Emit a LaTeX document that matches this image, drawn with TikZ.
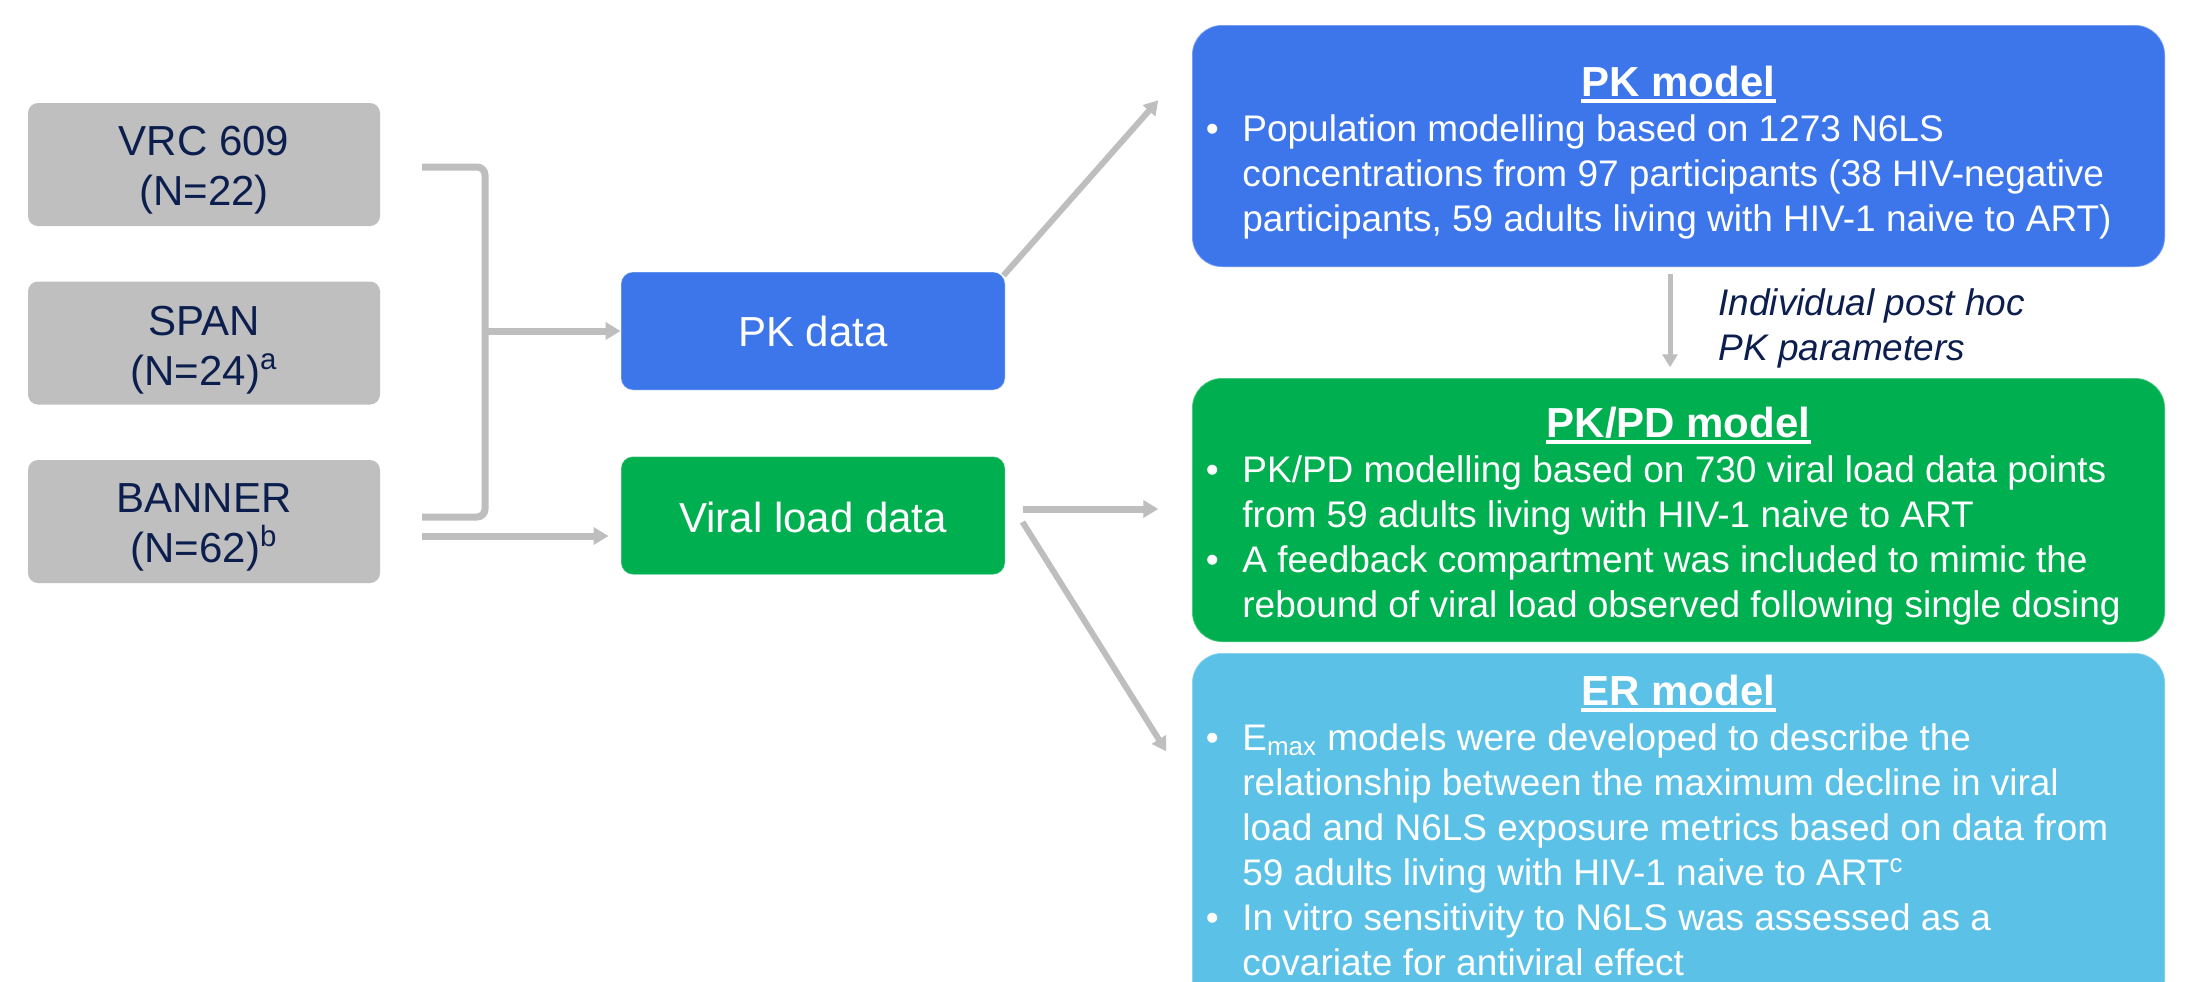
\documentclass[tikz,border=0pt]{standalone}
\usepackage{fontspec}
\setmainfont{Liberation Sans}
\usetikzlibrary{arrows.meta,calc}
\definecolor{pkblue}{RGB}{61,118,235}
\definecolor{pkgreen}{RGB}{0,176,80}
\definecolor{erblue}{RGB}{91,193,230}
\definecolor{boxgray}{RGB}{191,191,191}
\definecolor{arrowgray}{RGB}{190,190,190}
\definecolor{navy}{RGB}{12,30,78}
\begin{document}
\begin{tikzpicture}[x=0.5pt,y=-0.5pt,
  gbox/.style={rectangle, rounded corners=5pt, fill=boxgray, minimum width=176pt, minimum height=61.5pt, inner sep=0},
  dbox/.style={rectangle, rounded corners=6pt, minimum width=192pt, minimum height=59pt, inner sep=0, draw=white, draw opacity=0.3, line width=0.5pt},
  mbox/.style={rectangle, rounded corners=15pt, minimum width=486.5pt, inner sep=0, draw=white, draw opacity=0.3, line width=0.75pt},
  gtext/.style={anchor=base, inner sep=0, text=navy, font=\fontsize{21}{25}\selectfont},
  dtext/.style={anchor=base, inner sep=0, text=white, font=\fontsize{21}{25}\selectfont},
  mtitle/.style={anchor=base, inner sep=0, text=white, font=\fontsize{21}{25}\selectfont\bfseries},
  mline/.style={anchor=base west, inner sep=0, text=white, font=\fontsize{18.5}{22.5}\selectfont},
  lbl/.style={anchor=base west, inner sep=0, text=navy, font=\fontsize{18.5}{22.5}\selectfont\itshape},
  uline/.style={draw=white, line width=2pt},
  bracket/.style={draw=arrowgray, line width=3.5pt, rounded corners=4pt},
  conn/.style={draw=arrowgray, line width=3.5pt, -{Triangle[length=7.5pt,width=8.5pt]}},
  dconn/.style={draw=arrowgray, line width=3pt, -{Triangle[length=7pt,width=8pt]}},
  vconn/.style={draw=arrowgray, line width=2.5pt, -{Triangle[length=6.5pt,width=7.5pt]}}
]
\clip (0,0) rectangle (2187,981);
\fill[white] (0,0) rectangle (2187,981);

% left study boxes
\node[gbox] (vrc) at (204,164.5) {};
\node[gbox] (span) at (204,343) {};
\node[gbox] (banner) at (204,521.5) {};
\node[gtext] (vrc1) at (204,155) {VRC 609};
\node[gtext] (vrc2) at (204,205) {(N=22)};
\node[gtext] (span1) at (204,335) {SPAN};
\node[gtext] (span2) at (204,385) {(N=24)\textsuperscript{a}};
\node[gtext] (ban1) at (204,512) {BANNER};
\node[gtext] (ban2) at (204,562) {(N=62)\textsuperscript{b}};

% data boxes
\node[dbox, fill=pkblue] (pkdata) at (813,331) {};
\node[dtext] (pkdatat) at (813,346) {PK data};
\node[dbox, fill=pkgreen] (viral) at (813,515.5) {};
\node[dtext] (viralt) at (813,532) {Viral load data};

% model boxes
\node[mbox, fill=pkblue, minimum height=121pt] (pkm) at (1678.5,146) {};
\node[mbox, fill=pkgreen, minimum height=132pt] (pkpd) at (1678.5,510) {};
\node[mbox, fill=erblue, minimum height=178.5pt] (er) at (1678.5,831.5) {};

% PK model text
\node[mtitle] (pkmt) at (1678.5,96) {PK model};
\draw[uline] ($(pkmt.base west)+(0,5)$) -- ($(pkmt.base east)+(0,5)$);
\node[mline] (pkmb1) at (1205.5,141) {•};
\node[mline] (pkm1) at (1242,141) {Population modelling based on 1273 N6LS};
\node[mline] (pkm2) at (1242,186) {concentrations from 97 participants (38 HIV-negative};
\node[mline] (pkm3) at (1242,231) {participants, 59 adults living with HIV-1 naive to ART)};

% PK/PD model text
\node[mtitle] (pkpdt) at (1678.5,437) {PK/PD model};
\draw[uline] ($(pkpdt.base west)+(0,5)$) -- ($(pkpdt.base east)+(0,5)$);
\node[mline] (pkpdb1) at (1205.5,482) {•};
\node[mline] (pkpd1) at (1242,482) {PK/PD modelling based on 730 viral load data points};
\node[mline] (pkpd2) at (1242,527) {from 59 adults living with HIV-1 naive to ART};
\node[mline] (pkpdb2) at (1205.5,572) {•};
\node[mline] (pkpd3) at (1242,572) {A feedback compartment was included to mimic the};
\node[mline] (pkpd4) at (1242,617) {rebound of viral load observed following single dosing};

% ER model text
\node[mtitle] (ert) at (1678.5,705) {ER model};
\draw[uline] ($(ert.base west)+(0,5)$) -- ($(ert.base east)+(0,5)$);
\node[mline] (erb1) at (1205.5,750) {•};
\node[mline] (er1) at (1242,750) {E\textsubscript{max} models were developed to describe the};
\node[mline] (er2) at (1242,795) {relationship between the maximum decline in viral};
\node[mline] (er3) at (1242,840) {load and N6LS exposure metrics based on data from};
\node[mline] (er4) at (1242,885) {59 adults living with HIV-1 naive to ART\textsuperscript{c}};
\node[mline] (erb2) at (1205.5,930) {•};
\node[mline] (er5) at (1242,930) {In vitro sensitivity to N6LS was assessed as a};
\node[mline] (er6) at (1242,975) {covariate for antiviral effect};

% label
\node[lbl] (lab1) at (1718,315) {Individual post hoc};
\node[lbl] (lab2) at (1718,360) {PK parameters};

% bracket and arrows
\coordinate (btop) at (422,167);
\coordinate (bbot) at (422,517);
\coordinate (bj) at (485,331);
\draw[bracket] (btop) -- (btop -| bj) -- (bbot -| bj) -- (bbot);
\draw[conn] (bj) -- (pkdata.west);
\coordinate (bstart) at (422,536);
\draw[conn, shorten >=6pt] (bstart) -- (bstart -| viral.west);

\draw[dconn] ($(pkdata.north east)+(-2,4)$) -- ($(pkm.north west)+(-33,76)$);
\draw[conn] ($(viral.east)+(17,-6.5)$) -- ($(pkpd.west)+(-33,-1)$);
\draw[dconn] ($(viral.east)+(17,6.5)$) -- ($(er.north west)+(-25,99)$);
\draw[vconn] ($(pkm.south)+(-8.5,6)$) -- ($(pkpd.north)+(-8.5,-10)$);
\end{tikzpicture}
\end{document}
